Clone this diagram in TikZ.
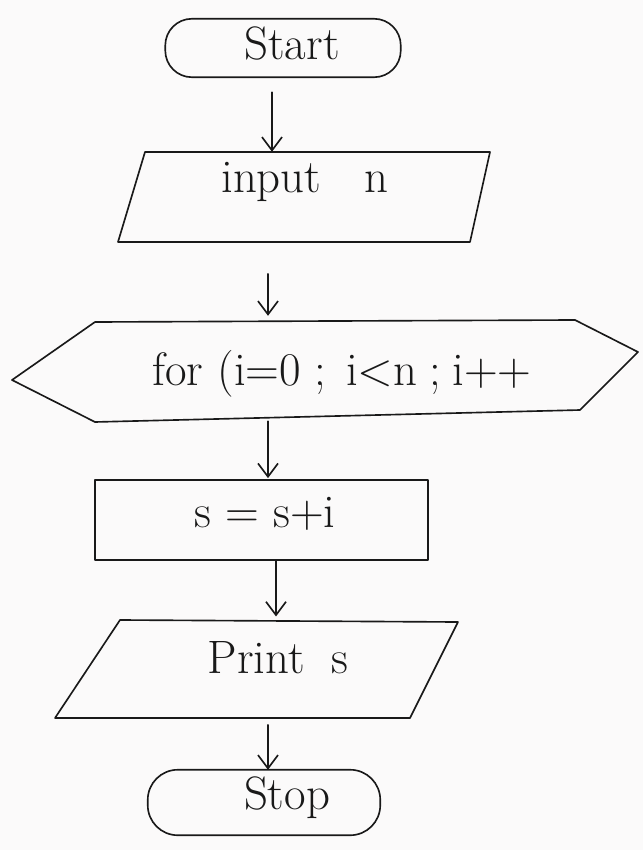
\documentclass[tikz,border=0pt]{standalone}
\usetikzlibrary{arrows.meta}
\begin{document}
\begin{tikzpicture}[x=0.03cm,y=-0.03cm,
  ink/.style={draw=black!90, line width=1.4pt, line join=round, line cap=round},
  lbl/.style={inner sep=0pt, font=\fontsize{40}{44}\selectfont, text=black!90},
  box/.style={inner sep=0pt},
  flow/.style={ink, -{Straight Barb[length=4mm,width=6mm,line width=1.4pt]}}]
\useasboundingbox (0,0) rectangle (643,850);
\fill[white!97!yellow!60!gray!10] (0,0) rectangle (643,850);

% Start terminal
\node[box, minimum width=7.05cm, minimum height=1.74cm] (start) at (283,48) {};
\draw[ink, rounded corners=0.8cm] (start.north west) rectangle (start.south east);
\node[lbl] (tstart) at (292,44) {Start};

% input n parallelogram
\node[box, minimum width=11.16cm, minimum height=2.7cm] (input) at (304,197) {};
\draw[ink] (145,152) -- (490,152) -- (470,242) -- (118,242) -- cycle;
\node[lbl] (tinput) at (305,182) {input\hspace{1.3cm}n};

% for loop hexagon
\node[box, minimum width=18.8cm, minimum height=3cm] (loop) at (325,371) {};
\draw[ink] (12,380) -- (95,322) -- (575,320) -- (638,352) -- (580,410) -- (95,422) -- cycle;
\node[lbl] (tloop) at (342,374) {for (i=0\hspace{0.4cm};\hspace{0.6cm}i<n\hspace{0.35cm};\hspace{0.35cm}i++};

% s = s+i rectangle
\node[box, minimum width=9.99cm, minimum height=2.4cm] (sum) at (261.5,520) {};
\draw[ink] (sum.north west) rectangle (sum.south east);
\node[lbl] (tsum) at (265,514) {s = s+i};

% Print s parallelogram
\node[box, minimum width=12.09cm, minimum height=2.94cm] (print) at (257,669) {};
\draw[ink] (120,620) -- (458,622) -- (410,718) -- (55,718) -- cycle;
\node[lbl] (tprint) at (278,658) {Print\hspace{0.8cm}s};

% Stop terminal
\node[box, minimum width=6.96cm, minimum height=1.95cm] (stop) at (264,802.5) {};
\draw[ink, rounded corners=0.9cm] (stop.north west) rectangle (stop.south east);
\node[lbl] (tstop) at (287,798) {Stop};

% connectors
\draw[flow, shorten <=0.45cm] (start.south -| 272,0) -- (input.north -| 272,0);
\draw[flow, shorten <=0.95cm, shorten >=0.15cm] (input.south -| 268,0) -- (loop.north -| 268,0);
\draw[flow, shorten >=0.05cm] (loop.south -| 268,0) -- (sum.north -| 268,0);
\draw[flow, shorten >=0.1cm] (sum.south -| 276,0) -- (print.north -| 276,0);
\draw[flow, shorten <=0.2cm] (print.south -| 268,0) -- (stop.north -| 268,0);
\end{tikzpicture}
\end{document}
